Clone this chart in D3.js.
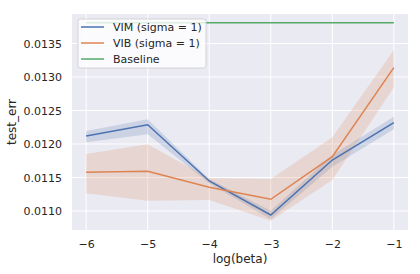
<!DOCTYPE html>
<head>
<style>
  body { margin: 0; background: #fff; }
  text { font-family: "DejaVu Sans", sans-serif; fill: #262626; }
</style>
</head>
<body>
<svg width="420" height="274"></svg>
<script src="https://d3js.org/d3.v7.min.js"></script>
<script>

var logBeta = [-6, -5, -4, -3, -2, -1];

var vimMean  = [0.01212, 0.012288, 0.011448, 0.01094, 0.011761, 0.012318];
var vimLow   = [0.012025, 0.012145, 0.011413, 0.010876, 0.011661, 0.012219];
var vimHigh  = [0.012194, 0.012369, 0.011478, 0.011005, 0.011836, 0.012407];

var vibMean  = [0.011577, 0.011592, 0.011354, 0.011175, 0.011811, 0.013139];
var vibLow   = [0.011264, 0.011154, 0.011164, 0.010855, 0.011463, 0.012846];
var vibHigh  = [0.011851, 0.011995, 0.011488, 0.011478, 0.0121, 0.013403];

var baseline = [0.01381, 0.01381, 0.01381, 0.01381, 0.01381, 0.01381];

var xTicks = [-6, -5, -4, -3, -2, -1];
var yTicks = [0.0110, 0.0115, 0.0120, 0.0125, 0.0130, 0.0135];

var svg = d3.select("svg"),
    margin = {top: 14, right: 12, bottom: 44, left: 72},
    width = +svg.attr("width") - margin.left - margin.right,
    height = +svg.attr("height") - margin.top - margin.bottom,
    g = svg.append("g").attr("transform", "translate(" + margin.left + "," + margin.top + ")");

var x = d3.scaleLinear().domain([-6.23, -0.77]).range([0, width]);
var y = d3.scaleLinear().domain([0.010716, 0.01394]).range([height, 0]);

g.append("rect").attr("width", width).attr("height", height).attr("fill", "#eaeaf2");

// grid
g.selectAll(".xg").data(xTicks).enter().append("line")
    .attr("x1", d => x(d)).attr("x2", d => x(d))
    .attr("y1", 0).attr("y2", height)
    .attr("stroke", "#fff").attr("stroke-width", 1);
g.selectAll(".yg").data(yTicks).enter().append("line")
    .attr("y1", d => y(d)).attr("y2", d => y(d))
    .attr("x1", 0).attr("x2", width)
    .attr("stroke", "#fff").attr("stroke-width", 1);

// axes (no tick marks, seaborn darkgrid)
var xAxis = g.append("g")
    .attr("transform", "translate(0," + height + ")")
    .call(d3.axisBottom(x).tickValues(xTicks).tickSize(0).tickPadding(10)
      .tickFormat(d => String(d).replace("-", "\u2212")));
var yAxis = g.append("g")
    .call(d3.axisLeft(y).tickValues(yTicks).tickSize(0).tickPadding(10)
      .tickFormat(d3.format(".4f")));
[xAxis, yAxis].forEach(function(a) {
  a.select(".domain").remove();
  a.selectAll("text").attr("font-size", 11).attr("font-family", "DejaVu Sans").attr("fill", "#262626");
});

g.append("text")
    .attr("x", width / 2).attr("y", height + 33)
    .attr("text-anchor", "middle").attr("font-size", 12)
    .text("log(beta)");
g.append("text")
    .attr("transform", "rotate(-90)")
    .attr("x", -height / 2).attr("y", -56)
    .attr("text-anchor", "middle").attr("font-size", 12)
    .text("test_err");

var area = d3.area()
    .x((d, i) => x(logBeta[i]))
    .y0(d => y(d[0]))
    .y1(d => y(d[1]));
var line = d3.line()
    .x((d, i) => x(logBeta[i]))
    .y(d => y(d));

var series = [
  {name: "VIM (sigma = 1)", color: "#4c72b0", mean: vimMean, low: vimLow, high: vimHigh},
  {name: "VIB (sigma = 1)", color: "#dd8452", mean: vibMean, low: vibLow, high: vibHigh},
  {name: "Baseline", color: "#55a868", mean: baseline}
];

series.forEach(function(s) {
  if (s.low) {
    g.append("path")
        .datum(s.low.map((v, i) => [v, s.high[i]]))
        .attr("fill", s.color).attr("fill-opacity", 0.2)
        .attr("d", area);
  }
});
series.forEach(function(s) {
  g.append("path")
      .datum(s.mean)
      .attr("fill", "none")
      .attr("stroke", s.color)
      .attr("stroke-width", 1.5)
      .attr("d", line);
});

// legend
var lg = g.append("g").attr("transform", "translate(6,5)");
lg.append("rect")
    .attr("width", 128).attr("height", 49).attr("rx", 2.5)
    .attr("fill", "#fff").attr("fill-opacity", 0.8)
    .attr("stroke", "#cccccc").attr("stroke-width", 0.8);
series.forEach(function(s, i) {
  var yy = 8 + i * 16;
  lg.append("line")
      .attr("x1", 3).attr("x2", 26).attr("y1", yy).attr("y2", yy)
      .attr("stroke", s.color).attr("stroke-width", 1.5);
  lg.append("text")
      .attr("x", 35).attr("y", yy).attr("dy", "0.35em")
      .attr("font-size", 11)
      .text(s.name);
});

</script>
</body>
